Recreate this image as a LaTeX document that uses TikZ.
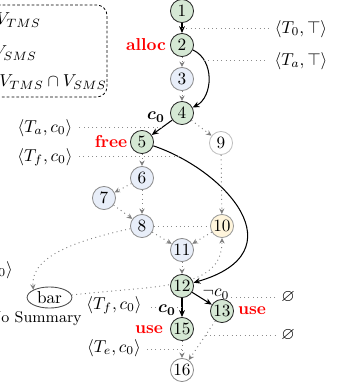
\documentclass[tikz,border=0pt]{standalone}
\usepackage{amsmath,amssymb}
\usepackage{tikz}
\usepackage{xcolor}
\usetikzlibrary{arrows.meta,positioning,shapes.geometric,backgrounds}

\definecolor{tmsfill}{HTML}{D5E8D4}
\definecolor{smsfill}{HTML}{E8EEF9}
\definecolor{retfill}{HTML}{FFF5DC}
\definecolor{opred}{HTML}{FF0000}

\begin{document}
\begin{tikzpicture}[x=0.58pt,y=-0.58pt,
  vtx/.style={circle,draw,line width=0.5pt,minimum size=13.4pt,inner sep=0pt},
  tms/.style={vtx,fill=tmsfill,draw=black!85},
  sms/.style={vtx,fill=smsfill,draw=black!45},
  far/.style={vtx,fill=white,draw=black!25},
  ret/.style={vtx,fill=retfill,draw=black!40},
  flow/.style={-{Stealth[length=4pt,width=3.4pt]},line width=0.6pt},
  skip/.style={-{Stealth[length=3.2pt,width=3pt]},dotted,draw=black!50,line width=0.55pt},
  annot/.style={dotted,draw=black!45,line width=0.5pt},
  op/.style={text=opred,font=\bfseries}]
  \useasboundingbox (0,0) rectangle (341,390);
  \clip (0,0) rectangle (341,390);
  % legend
  \draw[rounded corners=6pt,dash pattern=on 1.6pt off 1.2pt,line width=0.45pt] (-90,5) rectangle (107,97);
  \node[anchor=west,inner sep=0pt] (ltms) at (-4,20) {$V_{TMS}$};
  \node[anchor=west,inner sep=0pt] (lsms) at (-7,53) {$V_{SMS}$};
  \node[anchor=west,inner sep=0pt] (lboth) at (-1,82) {$V_{TMS}\cap V_{SMS}$};
  % program points
  \node[tms] (n1) at (182,11) {1};
  \node[tms] (n2) at (182,45) {2};
  \node[sms] (n3) at (182,79) {3};
  \node[tms] (n4) at (182,113) {4};
  \node[tms] (n5) at (142,142) {5};
  \node[sms] (n6) at (142,178) {6};
  \node[sms] (n7) at (104,198) {7};
  \node[sms] (n8) at (142,226) {8};
  \node[far] (n9) at (221,143) {9};
  \node[ret] (n10) at (222,226) {10};
  \node[sms] (n11) at (182,250) {11};
  \node[tms] (n12) at (182,286) {12};
  \node[tms] (n13) at (222,311) {13};
  \node[tms] (n15) at (182,329) {15};
  \node[vtx,fill=white,draw=black!45] (n16) at (182,370) {16};
  \node[ellipse,draw=black!70,line width=0.5pt,minimum width=26pt,minimum height=12.2pt,inner sep=0pt] (bar) at (49.5,297.5) {bar};
  \node[anchor=base east,font=\small,inner sep=0pt] (nosum) at (82,322) {No Summary};
  % states
  \node (t0) at (301,29) {$\langle T_0, \top\rangle$};
  \node (ta) at (301,61) {$\langle T_a, \top\rangle$};
  \node (tac) at (45,128) {$\langle T_a, c_0\rangle$};
  \node (tfc) at (45,157) {$\langle T_f, c_0\rangle$};
  \node[anchor=east] (tfcall) at (19,270) {$\langle T_f, c_0\rangle$};
  \node (tfc2) at (114,305) {$\langle T_f, c_0\rangle$};
  \node (tec) at (114,348) {$\langle T_e, c_0\rangle$};
  \node (none1) at (288,297) {$\varnothing$};
  \node (none2) at (288,335) {$\varnothing$};
  % operations and conditions
  \node[op] (alloc) at (146,45) {alloc};
  \node[op] (free) at (111,142) {free};
  \node[op] (use15) at (149,330) {use};
  \node[op] (use13) at (252,311) {use};
  \node[inner sep=0.5pt] (c4) at (156,117) {$\boldsymbol{c_0}$};
  \node[fill=white,inner sep=0.5pt] (c15) at (167,310) {$\boldsymbol{c_0}$};
  \node[inner sep=0.5pt] (neg) at (216,294) {$\neg c_0$};
  \begin{scope}[on background layer]
    \draw[flow] (n1) -- coordinate (e12) (n2);
    \draw[skip] (n2) -- (n3);
    \draw[skip] (n3) -- (n4);
    \draw[flow] (n2) .. controls (215,60) and (213,97) .. coordinate[pos=0.22] (e24) (n4);
    \draw[flow] (n4) -- coordinate (e45) (n5);
    \draw[skip] (n4) -- (n9);
    \draw[skip] (n5) -- (n6);
    \draw[flow] (n5) .. controls (225,170) and (300,252) .. coordinate[pos=0.12] (e512) (n12);
    \draw[skip] (n6) -- (n7);
    \draw[skip] (n6) -- (n8);
    \draw[skip] (n7) -- (n8);
    \draw[skip] (n8) .. controls (80,240) and (30,255) .. (bar.north west);
    \draw[annot] (n8) -- (n10);
    \draw[skip] (n9) -- (n10);
    \draw[skip] (n8) -- (n11);
    \draw[skip] (n10) -- (n11);
    \draw[skip] (bar) .. controls (160,285) and (222,290) .. (n10);
    \draw[skip] (n11) -- (n12);
    \draw[flow] (n12) -- coordinate (e1213) (n13);
    \draw[flow] (n12) -- coordinate (e1215) (n15);
    \draw[skip] (n13) -- coordinate[pos=0.36] (e1316) (n16);
    \draw[skip] (n15) -- coordinate (e1516) (n16);
    % state annotations
    \draw[annot] (e12) -- (e12 -| t0.west);
    \draw[annot] (e24) -- (e24 -| ta.west);
    \draw[annot] (e45) -- (e45 -| tac.east);
    \draw[annot] (e512) -- (e512 -| tfc.east);
    \draw[annot] (e1215) -- (e1215 -| tfc2.east);
    \draw[annot] (e1516) -- (e1516 -| tec.east);
    \draw[annot] (none1.west) -- (none1.west -| neg.east);
    \draw[annot] (e1316) -- (e1316 -| none2.west);
  \end{scope}
\end{tikzpicture}
\end{document}
